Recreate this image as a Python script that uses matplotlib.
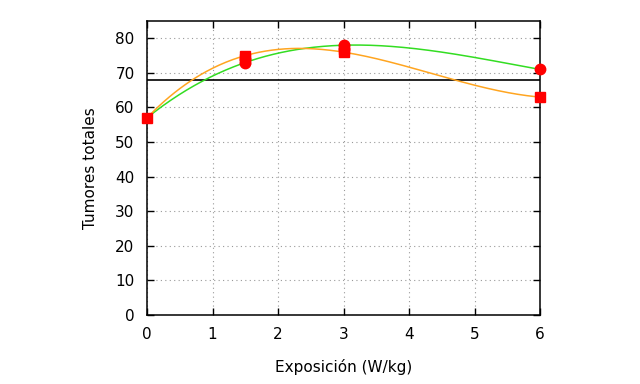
import numpy as np
import matplotlib
matplotlib.use("Agg")
import matplotlib.pyplot as plt

# data
circ_x = [1.5, 1.5, 3, 3, 6]
circ_y = [73, 74, 78, 77, 71]
sq_x = [0, 1.5, 1.5, 3, 3, 6]
sq_y = [57, 75, 74, 76, 77, 63]

green_x = [0, 1.5, 3, 6]
green_y = [57, 73, 78, 71]
orange_x = [0, 1.5, 3, 6]
orange_y = [57, 75, 76, 63]
ref_level = 68

xticks = [0, 1, 2, 3, 4, 5, 6]
yticks = [0, 10, 20, 30, 40, 50, 60, 70, 80]

fig = plt.figure(figsize=(6.4, 3.84), dpi=100)
ax = fig.add_axes([0.2297, 0.1797, 0.8438 - 0.2297, 0.9453 - 0.1797])

xs = np.linspace(0, 6, 300)
cg = np.polyfit(green_x, green_y, 3)
co = np.polyfit(orange_x, orange_y, 3)
ax.plot(xs, np.polyval(cg, xs), color="#33dd22", lw=1.1, zorder=3)
ax.plot(xs, np.polyval(co, xs), color="#ffa520", lw=1.1, zorder=3)
ax.axhline(ref_level, color="black", lw=1.2, zorder=2)

ax.plot(circ_x, circ_y, "o", color="red", ms=7.5, mec="red", zorder=4, clip_on=False)
ax.plot(sq_x, sq_y, "s", color="red", ms=7, mec="red", zorder=4, clip_on=False)

ax.set_xlim(0, 6)
ax.set_ylim(0, 85)
ax.set_xticks(xticks)
ax.set_yticks(yticks)
ax.tick_params(direction="in", top=True, right=True, length=5, width=1, labelsize=11, pad=9)
ax.grid(True, linestyle=(0, (1, 3)), color="#999999", lw=0.8)
for s in ax.spines.values():
    s.set_linewidth(1.1)
ax.set_xlabel("Exposición (W/kg)", fontsize=11, labelpad=12)
ax.set_ylabel("Tumores totales", fontsize=11, labelpad=12)

fig.savefig("out.png", dpi=100)
